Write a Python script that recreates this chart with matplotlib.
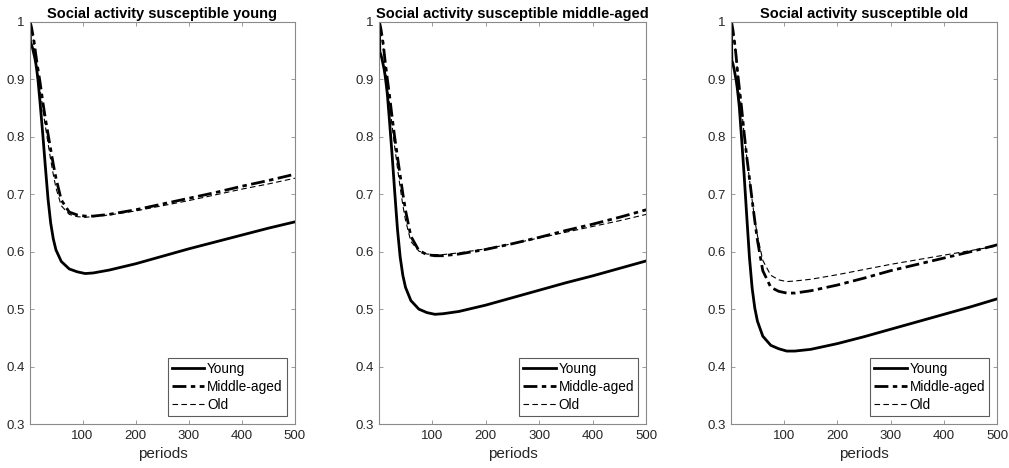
import matplotlib
matplotlib.use("Agg")
import matplotlib.pyplot as plt
from typing import List

plt.rcParams['font.family'] = ['Liberation Sans', 'DejaVu Sans']

# values, shared period grid
periods = [1, 2, 4, 6, 8, 10, 12, 14, 16, 20, 25, 30, 35, 40, 45, 50, 60, 75, 90,
           105, 120, 150, 200, 250, 300, 350, 400, 450, 500]

titles = ['Social activity susceptible young',
          'Social activity susceptible middle-aged',
          'Social activity susceptible old']
series_names = ['Young', 'Middle-aged', 'Old']

young_panel1 = [1.0, 0.965, 0.960, 0.954, 0.946, 0.938, 0.928, 0.915, 0.900, 0.860, 0.806, 0.748, 0.692, 0.650,
                0.622, 0.603, 0.583, 0.570, 0.565, 0.562, 0.563, 0.568, 0.579, 0.592, 0.605, 0.617, 0.629,
                0.641, 0.652]
middle_panel1 = [1.0, 0.998, 0.990, 0.980, 0.970, 0.957, 0.943, 0.930, 0.918, 0.895, 0.862, 0.832, 0.805, 0.778,
                 0.752, 0.728, 0.690, 0.669, 0.664, 0.662, 0.662, 0.665, 0.673, 0.683, 0.693, 0.703, 0.714,
                 0.724, 0.735]
old_panel1 = [1.0, 0.997, 0.988, 0.977, 0.965, 0.951, 0.936, 0.922, 0.909, 0.884, 0.850, 0.818, 0.789, 0.760,
              0.734, 0.711, 0.680, 0.665, 0.661, 0.660, 0.661, 0.664, 0.671, 0.680, 0.689, 0.699, 0.709,
              0.718, 0.728]

young_panel2 = [1.0, 0.948, 0.943, 0.936, 0.927, 0.918, 0.906, 0.891, 0.875, 0.829, 0.768, 0.702, 0.639, 0.591,
                0.559, 0.538, 0.515, 0.500, 0.494, 0.491, 0.492, 0.496, 0.507, 0.520, 0.533, 0.546, 0.558,
                0.571, 0.584]
middle_panel2 = [1.0, 0.997, 0.988, 0.976, 0.964, 0.948, 0.931, 0.916, 0.901, 0.873, 0.834, 0.798, 0.765, 0.733,
                 0.701, 0.672, 0.627, 0.602, 0.595, 0.593, 0.593, 0.596, 0.604, 0.614, 0.625, 0.637, 0.648,
                 0.660, 0.673]
old_panel2 = [1.0, 0.996, 0.985, 0.972, 0.958, 0.941, 0.923, 0.906, 0.890, 0.860, 0.819, 0.781, 0.746, 0.712,
              0.681, 0.655, 0.618, 0.601, 0.596, 0.595, 0.595, 0.598, 0.605, 0.614, 0.624, 0.634, 0.644,
              0.654, 0.665]

young_panel3 = [1.0, 0.933, 0.927, 0.919, 0.909, 0.899, 0.886, 0.870, 0.852, 0.801, 0.734, 0.661, 0.590, 0.537,
                0.502, 0.479, 0.453, 0.437, 0.431, 0.427, 0.427, 0.430, 0.440, 0.452, 0.465, 0.478, 0.491,
                0.504, 0.518]
middle_panel3 = [1.0, 0.997, 0.986, 0.972, 0.958, 0.940, 0.920, 0.902, 0.885, 0.853, 0.807, 0.765, 0.728, 0.690,
                 0.654, 0.620, 0.567, 0.538, 0.531, 0.528, 0.528, 0.532, 0.542, 0.554, 0.567, 0.578, 0.589,
                 0.600, 0.612]
old_panel3 = [1.0, 0.996, 0.985, 0.972, 0.958, 0.940, 0.920, 0.901, 0.883, 0.850, 0.805, 0.764, 0.726, 0.690,
              0.656, 0.628, 0.585, 0.559, 0.551, 0.548, 0.549, 0.552, 0.560, 0.569, 0.578, 0.586, 0.594,
              0.602, 0.610]

x_ticks = [100, 200, 300, 400, 500]
y_ticks = [0.3, 0.4, 0.5, 0.6, 0.7, 0.8, 0.9, 1.0]
y_tick_labels = ['0.3', '0.4', '0.5', '0.6', '0.7', '0.8', '0.9', '1']

TEXT = '#262626'
SPINE = '#8a8a8a'


def plot_panel(ax: plt.Axes, title: str, young: List[float], middle: List[float], old: List[float]) -> None:
    """One MATLAB-style panel with three age groups."""
    ax.plot(periods, young, color='black', lw=2.0, ls='-', label=series_names[0])
    ax.plot(periods, middle, color='black', lw=2.0, ls=(0, (5, 1.6, 1.6, 1.6)), label=series_names[1])
    ax.plot(periods, old, color='black', lw=0.8, ls=(0, (5, 3)), label=series_names[2])

    ax.set_xlim(1, 500)
    ax.set_ylim(0.3, 1.0)
    ax.set_xticks(x_ticks)
    ax.set_yticks(y_ticks)
    ax.set_yticklabels(y_tick_labels)
    ax.tick_params(direction='in', top=True, right=True, length=3, width=0.6,
                   color=SPINE, labelcolor=TEXT, labelsize=9.5, pad=4)
    for spine in ax.spines.values():
        spine.set_color(SPINE)
        spine.set_linewidth(0.8)

    ax.set_title(title, fontsize=10.5, fontweight='bold', color='black', pad=3)
    ax.set_xlabel('periods', fontsize=11, color=TEXT, labelpad=4)

    leg = ax.legend(loc='lower right', fontsize=9.8, frameon=True, fancybox=False,
                    edgecolor='#333333', handlelength=2.4, handletextpad=0.2,
                    borderpad=0.3, labelspacing=0.3, borderaxespad=0.6)
    leg.get_frame().set_linewidth(0.8)


def main() -> None:
    fig = plt.figure(figsize=(10.09, 4.68), dpi=100)
    positions = [
        [0.0297, 0.094, 0.2626, 0.859],
        [0.3759, 0.094, 0.2646, 0.859],
        [0.7248, 0.094, 0.2636, 0.859],
    ]
    data = [
        (young_panel1, middle_panel1, old_panel1),
        (young_panel2, middle_panel2, old_panel2),
        (young_panel3, middle_panel3, old_panel3),
    ]
    for pos, title, (young, middle, old) in zip(positions, titles, data):
        ax = fig.add_axes(pos)
        plot_panel(ax, title, young, middle, old)

    fig.savefig('out.png', dpi=100, facecolor='white')


if __name__ == "__main__":
    main()
